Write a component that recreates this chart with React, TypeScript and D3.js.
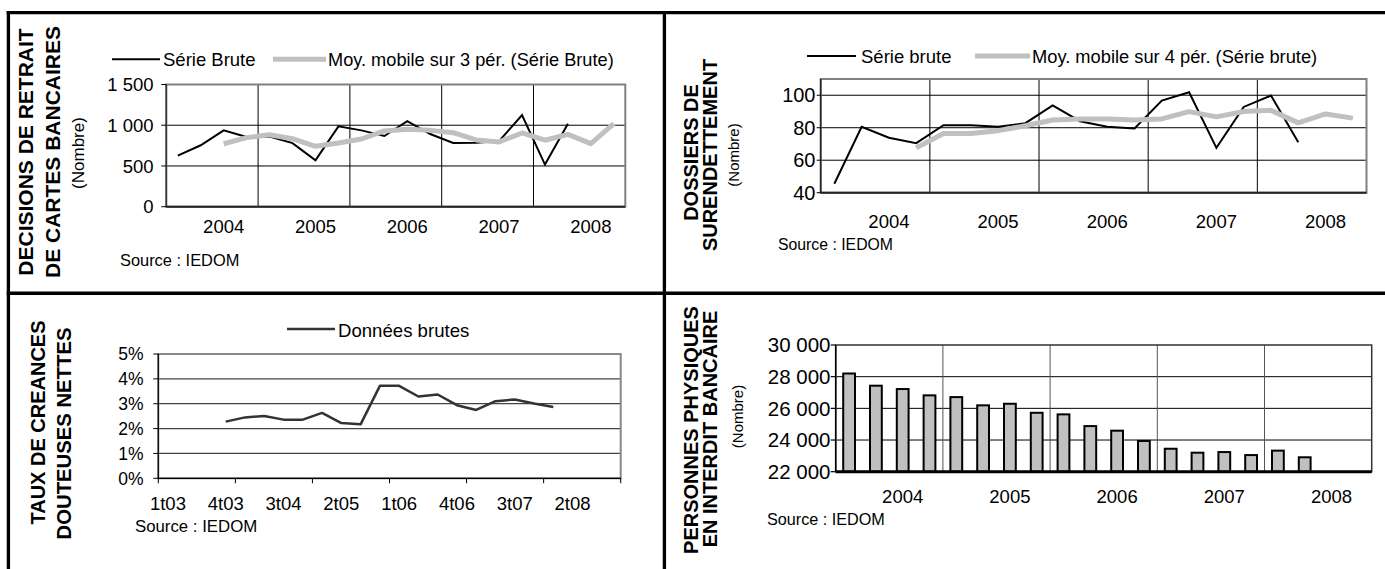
import React from "react";
import * as d3 from "d3";

// ---------- DATA ----------
const quarters = [
  "1t04", "2t04", "3t04", "4t04", "1t05", "2t05", "3t05", "4t05",
  "1t06", "2t06", "3t06", "4t06", "1t07", "2t07", "3t07", "4t07",
  "1t08", "2t08", "3t08", "4t08",
];
const yearLabels = ["2004", "2005", "2006", "2007", "2008"];

const cartesBrute = [627, 754, 937, 855, 862, 780, 570, 986, 937, 868, 1051, 892, 782, 786, 805, 1125, 517, 1019];
const cartesMoy3 = [null, null, 773, 848, 884, 835, 741, 782, 831, 930, 952, 937, 908, 820, 795, 905, 816, 887, 774, 1019];

const dossiersBrute = [45.5, 80.6, 73.8, 70.5, 81.6, 81.6, 80.6, 82.8, 93.7, 84.0, 80.6, 79.5, 96.7, 101.8, 67.6, 92.8, 99.8, 71.1];
const dossiersMoy4 = [null, null, null, 67.6, 76.4, 76.5, 78.2, 81.2, 84.8, 85.4, 85.4, 84.8, 85.4, 89.9, 86.7, 90.0, 90.7, 83.0, 88.5, 85.9];

const creancesQuarters = [
  "1t03", "2t03", "3t03", "4t03", "1t04", "2t04", "3t04", "4t04",
  "1t05", "2t05", "3t05", "4t05", "1t06", "2t06", "3t06", "4t06",
  "1t07", "2t07", "3t07", "4t07", "1t08", "2t08", "3t08", "4t08",
];
const creancesLabels = ["1t03", "4t03", "3t04", "2t05", "1t06", "4t06", "3t07", "2t08"];
const creancesValues = [null, null, null, 2.28, 2.45, 2.51, 2.36, 2.36, 2.63, 2.22, 2.17, 3.72, 3.72, 3.29, 3.37, 2.94, 2.75, 3.10, 3.17, 3.01, 2.87, null, null, null];

const interditValues = [28200, 27430, 27220, 26820, 26710, 26190, 26290, 25720, 25620, 24880, 24590, 23940, 23450, 23200, 23240, 23050, 23330, 22910];

const cartesTicks = [0, 500, 1000, 1500];
const dossiersTicks = [40, 60, 80, 100];
const creancesTicks = [0, 1, 2, 3, 4, 5];
const interditTicks = [22000, 24000, 26000, 28000, 30000];

// ---------- HELPERS ----------
const FONT = "'Liberation Sans', Arial, Helvetica, sans-serif";
const frLocale = d3.formatLocale({ decimal: ",", thousands: " ", grouping: [3], currency: ["", " €"] });
const fmtNum = frLocale.format(",d");

type Num = number | null;

function linePath(xs: d3.ScaleBand<string>, ys: d3.ScaleLinear<number, number>, cats: string[], vals: Num[]) {
  const pts = vals.map((v, i) => ({ c: cats[i], v }));
  return d3
    .line<{ c: string; v: Num }>()
    .defined((d) => d.v !== null && d.c !== undefined)
    .x((d) => (xs(d.c) as number) + xs.bandwidth() / 2)
    .y((d) => ys(d.v as number))(pts) as string;
}

function RotTitle({ x, y, text, size, bold = true }: { x: number; y: number; text: string; size: number; bold?: boolean }) {
  return (
    <text
      transform={`translate(${x},${y}) rotate(-90)`}
      textAnchor="middle"
      fontFamily={FONT}
      fontSize={size}
      fontWeight={bold ? "bold" : "normal"}
      fill="#000"
    >
      {text}
    </text>
  );
}

// ---------- PANEL 1 ----------
function Panel1() {
  const x = d3.scaleBand<string>().domain(quarters).range([166.3, 625.3]);
  const y = d3.scaleLinear().domain([0, 1500]).range([206.7, 84.5]);
  const bw = x.bandwidth();
  const L = 166.3, R = 625.3, T = 84.5, B = 206.7;
  return (
    <g>
      <RotTitle x={33.3} y={152} text="DECISIONS DE RETRAIT" size={21} />
      <RotTitle x={60} y={152} text="DE CARTES BANCAIRES" size={21} />
      <RotTitle x={84} y={153} text="(Nombre)" size={17} bold={false} />
      {/* legend */}
      <line x1={112} x2={160} y1={59.3} y2={59.3} stroke="#000" strokeWidth={2} />
      <text x={163} y={65.5} fontFamily={FONT} fontSize={18.5}>Série Brute</text>
      <line x1={273} x2={326} y1={59.3} y2={59.3} stroke="#c0c0c0" strokeWidth={5} />
      <text x={328} y={65.5} fontFamily={FONT} fontSize={18.2}>Moy. mobile sur 3 pér. (Série Brute)</text>
      {/* grid */}
      {cartesTicks.slice(1, -1).map((t) => (
        <line key={t} x1={L} x2={R} y1={y(t)} y2={y(t)} stroke="#000" strokeWidth={1} />
      ))}
      {quarters.map((q, i) =>
        i > 0 && i % 4 === 0 ? (
          <line key={q} x1={x(q)} x2={x(q)} y1={T} y2={B} stroke="#000" strokeWidth={1} />
        ) : null
      )}
      <rect x={L} y={T} width={R - L} height={B - T} fill="none" stroke="#808080" strokeWidth={2} />
      <line x1={L} x2={L} y1={T} y2={B} stroke="#333" strokeWidth={1.5} />
      <line x1={L} x2={R} y1={B} y2={B} stroke="#222" strokeWidth={2} />
      {cartesTicks.map((t) => (
        <g key={t}>
          <line x1={L - 5} x2={L} y1={y(t)} y2={y(t)} stroke="#000" strokeWidth={1} />
          <text x={153.5} y={y(t)} dy="0.36em" textAnchor="end" fontFamily={FONT} fontSize={18.5}>{fmtNum(t)}</text>
        </g>
      ))}
      {yearLabels.map((yl, k) => (
        <text key={yl} x={(x(quarters[k * 4 + 2]) as number) + bw / 2} y={233} textAnchor="middle" fontFamily={FONT} fontSize={18.5}>{yl}</text>
      ))}
      <path d={linePath(x, y, quarters, cartesBrute)} fill="none" stroke="#000" strokeWidth={2} strokeLinejoin="miter" />
      <path d={linePath(x, y, quarters, cartesMoy3)} fill="none" stroke="#c0c0c0" strokeWidth={5} strokeLinejoin="round" />
      <text x={120} y={266} fontFamily={FONT} fontSize={16.4}>Source : IEDOM</text>
    </g>
  );
}

// ---------- PANEL 2 ----------
function Panel2() {
  const L = 820.7, R = 1366.5, T = 79, B = 192.7;
  const x = d3.scaleBand<string>().domain(quarters).range([L, R]);
  const y = d3.scaleLinear().domain([40, 110]).range([B, T]);
  const bw = x.bandwidth();
  return (
    <g>
      <RotTitle x={698.3} y={152.5} text="DOSSIERS DE" size={20} />
      <RotTitle x={717.3} y={155} text="SURENDETTEMENT" size={20} />
      <RotTitle x={739} y={155} text="(Nombre)" size={15} bold={false} />
      <line x1={807} x2={856} y1={56} y2={56} stroke="#000" strokeWidth={2} />
      <text x={861} y={63} fontFamily={FONT} fontSize={18.5}>Série brute</text>
      <line x1={975} x2={1030} y1={56} y2={56} stroke="#c0c0c0" strokeWidth={5} />
      <text x={1032} y={63} fontFamily={FONT} fontSize={18.3}>Moy. mobile sur 4 pér. (Série brute)</text>
      {dossiersTicks.slice(1).map((t) => (
        <line key={t} x1={L} x2={R} y1={y(t)} y2={y(t)} stroke="#000" strokeWidth={1} />
      ))}
      {quarters.map((q, i) =>
        i > 0 && i % 4 === 0 ? (
          <line key={q} x1={x(q)} x2={x(q)} y1={T} y2={B} stroke="#000" strokeWidth={1} />
        ) : null
      )}
      <rect x={L} y={T} width={R - L} height={B - T} fill="none" stroke="#808080" strokeWidth={2} />
      <line x1={L} x2={L} y1={T} y2={B} stroke="#222" strokeWidth={1.5} />
      <line x1={L} x2={R} y1={B} y2={B} stroke="#222" strokeWidth={2} />
      {dossiersTicks.map((t) => (
        <g key={t}>
          <line x1={L - 4} x2={L} y1={y(t)} y2={y(t)} stroke="#000" strokeWidth={1} />
          <text x={815.5} y={y(t)} dy="0.36em" textAnchor="end" fontFamily={FONT} fontSize={20}>{t}</text>
        </g>
      ))}
      {yearLabels.map((yl, k) => (
        <text key={yl} x={(x(quarters[k * 4 + 2]) as number) + bw / 2} y={228} textAnchor="middle" fontFamily={FONT} fontSize={18.5}>{yl}</text>
      ))}
      <path d={linePath(x, y, quarters, dossiersBrute)} fill="none" stroke="#000" strokeWidth={2} />
      <path d={linePath(x, y, quarters, dossiersMoy4)} fill="none" stroke="#c0c0c0" strokeWidth={5} strokeLinejoin="round" />
      <text x={778} y={250} fontFamily={FONT} fontSize={15.8}>Source : IEDOM</text>
    </g>
  );
}

// ---------- PANEL 3 ----------
function Panel3() {
  const L = 158.3, R = 620.7, T = 354, B = 478.3;
  const x = d3.scaleBand<string>().domain(creancesQuarters).range([L, R]);
  const y = d3.scaleLinear().domain([0, 5]).range([B, T]);
  const bw = x.bandwidth();
  return (
    <g>
      <RotTitle x={45} y={422.5} text="TAUX DE CREANCES" size={20} />
      <RotTitle x={70.5} y={433.5} text="DOUTEUSES NETTES" size={20.3} />
      <line x1={287} x2={335} y1={329} y2={329} stroke="#333" strokeWidth={2.5} />
      <text x={338} y={336.5} fontFamily={FONT} fontSize={18.6}>Données brutes</text>
      {creancesTicks.slice(1, -1).map((t) => (
        <line key={t} x1={L} x2={R} y1={y(t)} y2={y(t)} stroke="#444" strokeWidth={1.2} />
      ))}
      <rect x={L} y={T} width={R - L} height={B - T} fill="none" stroke="#888" strokeWidth={2} />
      <line x1={L} x2={L} y1={T} y2={B} stroke="#000" strokeWidth={1.2} />
      <line x1={L} x2={R} y1={B} y2={B} stroke="#000" strokeWidth={1.2} />
      {creancesTicks.map((t) => (
        <g key={t}>
          <line x1={L - 5} x2={L} y1={y(t)} y2={y(t)} stroke="#000" strokeWidth={1} />
          <text x={143.5} y={y(t)} dy="0.36em" textAnchor="end" fontFamily={FONT} fontSize={17.5}>{t + "%"}</text>
        </g>
      ))}
      {creancesQuarters.map((q, i) =>
        i % 4 === 0 ? (
          <line key={q} x1={x(q)} x2={x(q)} y1={B} y2={B + 5} stroke="#000" strokeWidth={1} />
        ) : null
      )}
      <line x1={R} x2={R} y1={B} y2={B + 5} stroke="#000" strokeWidth={1} />
      {creancesLabels.map((lab) => (
        <text key={lab} x={(x(lab) as number) + bw / 2} y={510} textAnchor="middle" fontFamily={FONT} fontSize={18.5}>{lab}</text>
      ))}
      <path d={linePath(x, y, creancesQuarters, creancesValues)} fill="none" stroke="#333" strokeWidth={2.5} strokeLinejoin="round" />
      <text x={135} y={532} fontFamily={FONT} fontSize={16.8}>Source : IEDOM</text>
    </g>
  );
}

// ---------- PANEL 4 ----------
function Panel4() {
  const L = 835.7, R = 1371.7, T = 345, B = 471.7;
  const x = d3.scaleBand<string>().domain(quarters).range([L, R]);
  const y = d3.scaleLinear().domain([22000, 30000]).range([B, T]);
  const bw = x.bandwidth();
  const barW = bw * 0.44;
  return (
    <g>
      <RotTitle x={698.3} y={430} text="PERSONNES PHYSIQUES" size={20} />
      <RotTitle x={716.7} y={429} text="EN INTERDIT BANCAIRE" size={20} />
      <RotTitle x={743} y={416.5} text="(Nombre)" size={15} bold={false} />
      {interditTicks.slice(1, -1).map((t) => (
        <line key={t} x1={L} x2={R} y1={y(t)} y2={y(t)} stroke="#000" strokeWidth={1} />
      ))}
      {quarters.map((q, i) =>
        i > 0 && i % 4 === 0 ? (
          <line key={q} x1={x(q)} x2={x(q)} y1={T} y2={B} stroke="#555" strokeWidth={1} />
        ) : null
      )}
      <rect x={L} y={T} width={R - L} height={B - T} fill="none" stroke="#333" strokeWidth={1.5} />
      <line x1={L} x2={L} y1={T} y2={B} stroke="#000" strokeWidth={1.5} />
      {interditTicks.map((t) => (
        <g key={t}>
          <line x1={L - 5} x2={L} y1={y(t)} y2={y(t)} stroke="#000" strokeWidth={1.2} />
          <text x={830.5} y={y(t)} dy="0.36em" textAnchor="end" fontFamily={FONT} fontSize={20.5}>{fmtNum(t)}</text>
        </g>
      ))}
      {interditValues.map((v, i) => {
        const cx = (x(quarters[i]) as number) + bw / 2;
        return (
          <rect key={i} x={cx - barW / 2} y={y(v)} width={barW} height={B - y(v)} fill="#c0c0c0" stroke="#000" strokeWidth={2} />
        );
      })}
      <line x1={L} x2={R} y1={B} y2={B} stroke="#000" strokeWidth={3} />
      {yearLabels.map((yl, k) => (
        <text key={yl} x={(x(quarters[k * 4 + 2]) as number) + bw / 2} y={503} textAnchor="middle" fontFamily={FONT} fontSize={18.5}>{yl}</text>
      ))}
      <text x={767} y={525} fontFamily={FONT} fontSize={16.2}>Source : IEDOM</text>
    </g>
  );
}

export default function App() {
  return (
    <div style={{ position: "absolute", left: 0, top: 0 }}>
      <svg width={1385} height={569} style={{ display: "block", background: "#fff" }}>
        <rect x={0} y={0} width={1385} height={569} fill="#fff" />
        {/* frame */}
        <line x1={6.7} x2={1385} y1={12.7} y2={12.7} stroke="#000" strokeWidth={3.3} />
        <line x1={8.4} x2={8.4} y1={11} y2={569} stroke="#000" strokeWidth={3.3} />
        <line x1={664.4} x2={664.4} y1={11} y2={569} stroke="#000" strokeWidth={3.3} />
        <line x1={6.7} x2={1385} y1={293.3} y2={293.3} stroke="#000" strokeWidth={3.6} />
        <Panel1 />
        <Panel2 />
        <Panel3 />
        <Panel4 />
      </svg>
    </div>
  );
}
